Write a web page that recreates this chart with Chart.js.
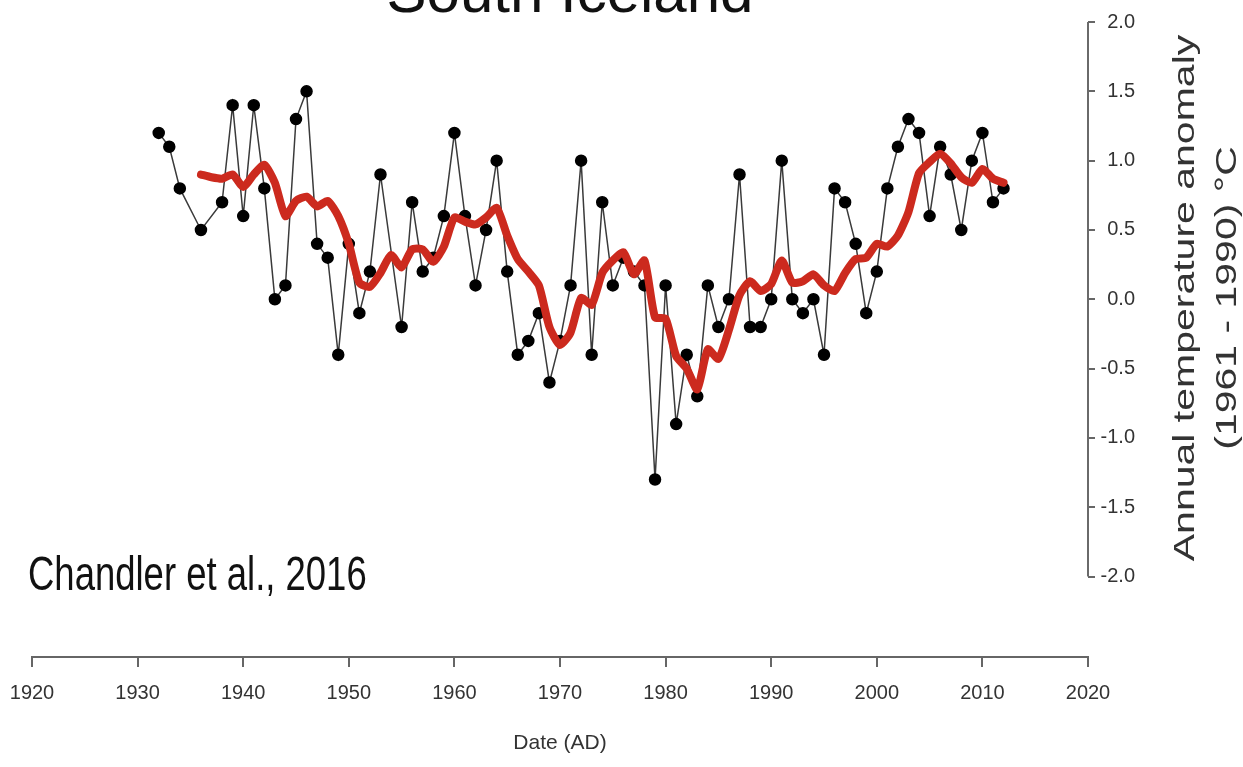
<!DOCTYPE html>
<html>
<head>
<meta charset="utf-8">
<style>
	html, body { margin: 0; padding: 0; background: #fff; }
	#wrap { position: relative; width: 1243px; height: 767px; overflow: hidden; }
</style>
</head>
<body>
<div id="wrap"><canvas id="myChart" width="1243" height="767"></canvas></div>
<script src="https://cdn.jsdelivr.net/npm/chart.js@4/dist/chart.umd.min.js"></script>
<script>
// annual values (black dots)
var years = [1932, 1933, 1934, 1936, 1938, 1939, 1940, 1941, 1942, 1943, 1944, 1945, 1946, 1947, 1948, 1949,
	1950, 1951, 1952, 1953, 1955, 1956, 1957, 1958, 1959, 1960, 1961, 1962, 1963, 1964, 1965, 1966, 1967, 1968, 1969,
	1970, 1971, 1972, 1973, 1974, 1975, 1976, 1977, 1978, 1979, 1980, 1981, 1982, 1983, 1984, 1985, 1986, 1987, 1988, 1989,
	1990, 1991, 1992, 1993, 1994, 1995, 1996, 1997, 1998, 1999, 2000, 2001, 2002, 2003, 2004, 2005, 2006, 2007, 2008, 2009,
	2010, 2011, 2012];
var anomaly = [1.2, 1.1, 0.8, 0.5, 0.7, 1.4, 0.6, 1.4, 0.8, 0.0, 0.1, 1.3, 1.5, 0.4, 0.3, -0.4,
	0.4, -0.1, 0.2, 0.9, -0.2, 0.7, 0.2, 0.3, 0.6, 1.2, 0.6, 0.1, 0.5, 1.0, 0.2, -0.4, -0.3, -0.1, -0.6,
	-0.3, 0.1, 1.0, -0.4, 0.7, 0.1, 0.3, 0.2, 0.1, -1.3, 0.1, -0.9, -0.4, -0.7, 0.1, -0.2, 0.0, 0.9, -0.2, -0.2,
	0.0, 1.0, 0.0, -0.1, 0.0, -0.4, 0.8, 0.7, 0.4, -0.1, 0.2, 0.8, 1.1, 1.3, 1.2, 0.6, 1.1, 0.9, 0.5, 1.0,
	1.2, 0.7, 0.8];

// smoothed curve (red)
var smoothYears = [1936, 1937, 1938, 1939, 1940, 1941, 1942, 1943, 1944, 1945, 1946, 1947, 1948, 1949,
	1950, 1951, 1952, 1953, 1954, 1955, 1956, 1957, 1958, 1959, 1960, 1961, 1962, 1963, 1964, 1965, 1966, 1967, 1968, 1969,
	1970, 1971, 1972, 1973, 1974, 1975, 1976, 1977, 1978, 1979, 1980, 1981, 1982, 1983, 1984, 1985, 1986, 1987, 1988, 1989,
	1990, 1991, 1992, 1993, 1994, 1995, 1996, 1997, 1998, 1999, 2000, 2001, 2002, 2003, 2004, 2005, 2006, 2007, 2008, 2009,
	2010, 2011, 2012];
var smoothed = [0.90, 0.88, 0.87, 0.90, 0.81, 0.90, 0.97, 0.84, 0.60, 0.71, 0.74, 0.67, 0.71, 0.60,
	0.40, 0.12, 0.09, 0.19, 0.32, 0.23, 0.36, 0.36, 0.27, 0.38, 0.59, 0.56, 0.54, 0.59, 0.66, 0.46, 0.29, 0.20, 0.10, -0.20,
	-0.33, -0.24, 0.01, -0.04, 0.19, 0.28, 0.34, 0.18, 0.28, -0.13, -0.14, -0.41, -0.50, -0.65, -0.36, -0.43, -0.22, 0.03, 0.13, 0.06,
	0.11, 0.28, 0.12, 0.13, 0.18, 0.10, 0.06, 0.19, 0.29, 0.30, 0.40, 0.38, 0.46, 0.63, 0.91, 0.99, 1.05, 0.98, 0.88, 0.84,
	0.94, 0.87, 0.84];

var yTicks = [-2.0, -1.5, -1.0, -0.5, 0.0, 0.5, 1.0, 1.5, 2.0];

var sans = "'Liberation Sans', Arial, sans-serif";

function pts(xs, ys){
	var out = [];
	for(var i = 0; i < xs.length; i++) out.push({x: xs[i], y: ys[i]});
	return out;
}

// y axis line only between -2 and 2, plus the free texts
var extras = {
	id: "extras",
	afterDraw: function(chart){
		var ctx = chart.ctx;
		var y = chart.scales.y;
		ctx.save();
		ctx.strokeStyle = "#6a6a6a";
		ctx.lineWidth = 2;
		ctx.beginPath();
		ctx.moveTo(y.left, y.getPixelForValue(2));
		ctx.lineTo(y.left, y.getPixelForValue(-2));
		ctx.stroke();

		ctx.fillStyle = "#111";
		ctx.textAlign = "center";
		ctx.textBaseline = "alphabetic";
		ctx.font = "60px " + sans;
		ctx.fillText("South Iceland", 570, 12);

		ctx.save();
		ctx.translate(28, 590);
		ctx.scale(0.76, 1);
		ctx.textAlign = "left";
		ctx.font = "48px " + sans;
		ctx.fillText("Chandler et al., 2016", 0, 0);
		ctx.restore();

		var lines = ["Annual temperature anomaly", "(1961 - 1990) \u00B0C"];
		var xs = [1186, 1228];
		ctx.fillStyle = "#333";
		ctx.font = "41px " + sans;
		ctx.textBaseline = "middle";
		for(var i = 0; i < lines.length; i++){
			ctx.save();
			ctx.translate(xs[i], 298);
			ctx.rotate(-Math.PI / 2);
			ctx.scale(1, 0.7);
			ctx.fillText(lines[i], 0, 0);
			ctx.restore();
		}
		ctx.restore();
	}
};

var ctx = document.getElementById("myChart").getContext("2d");
var myChart = new Chart(ctx, {
	type: "line",
	data: {
		datasets: [{
			label: "Smoothed",
			data: pts(smoothYears, smoothed),
			borderColor: "#cc2a1e",
			borderWidth: 8,
			borderJoinStyle: "round",
			borderCapStyle: "round",
			pointRadius: 0,
			fill: false,
			tension: 0.2,
			order: 1
		}, {
			label: "Annual",
			data: pts(years, anomaly),
			borderColor: "#3a3a3a",
			borderWidth: 1.5,
			backgroundColor: "#000",
			pointBackgroundColor: "#000",
			pointBorderColor: "#000",
			pointRadius: 5.5,
			fill: false,
			tension: 0,
			order: 2
		}]
	},
	options: {
		responsive: false,
		animation: false,
		layout: {padding: {left: 32, top: 22, right: 108, bottom: 11}},
		plugins: {legend: {display: false}, tooltip: {enabled: false}},
		scales: {
			x: {
				type: "linear",
				position: "bottom",
				min: 1920,
				max: 2020,
				afterFit: function(scale){ scale.height = 99; },
				grid: {display: true, drawOnChartArea: false, tickLength: 10, color: "#666", lineWidth: 2},
				border: {display: true, color: "#666", width: 2},
				ticks: {stepSize: 10, padding: 2, color: "#333", font: {family: sans, size: 20, lineHeight: 2.4},
					maxRotation: 0, callback: function(v){ return String(v); }},
				title: {display: true, text: "Date (AD)", color: "#333", font: {family: sans, size: 21},
					padding: {top: 0, bottom: 0}}
			},
			y: {
				position: "right",
				min: -2.58,
				max: 2,
				afterFit: function(scale){ scale.width = 47; },
				afterBuildTicks: function(scale){
					scale.ticks = yTicks.map(function(v){ return {value: v}; });
				},
				grid: {display: true, drawOnChartArea: false, tickLength: 7, color: "#666", lineWidth: 2},
				border: {display: false},
				ticks: {padding: 3, crossAlign: "far", color: "#333", font: {family: sans, size: 20},
					callback: function(v){ return v.toFixed(1); }}
			}
		}
	},
	plugins: [extras]
});
</script>
</body>
</html>
